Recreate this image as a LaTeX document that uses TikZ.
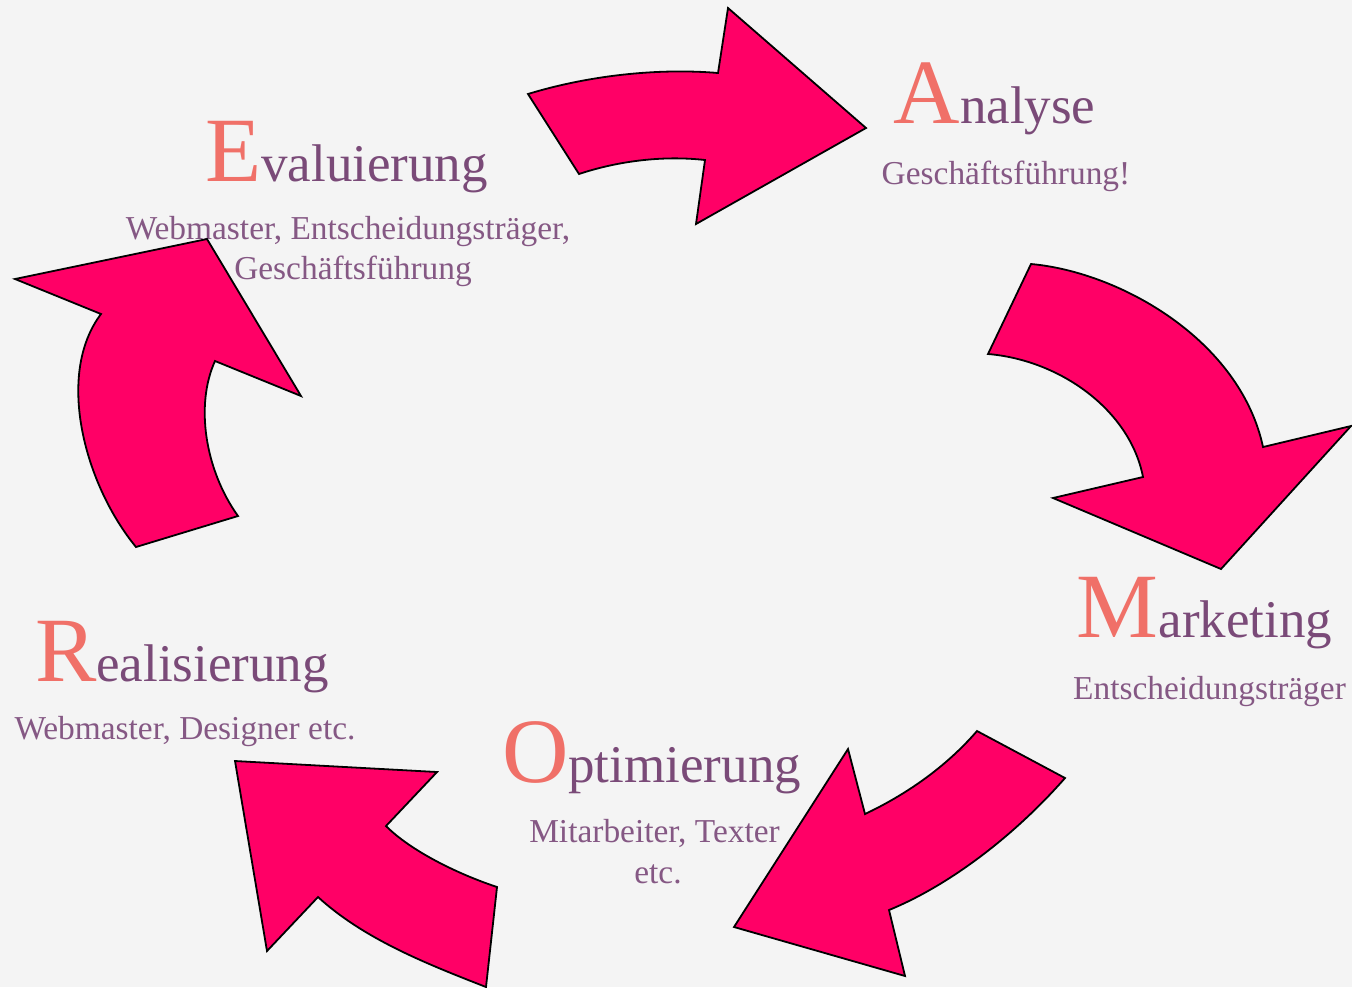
\documentclass[tikz,border=0pt]{standalone}
\usepackage{fontspec}
\setmainfont{Liberation Serif}
\definecolor{bg}{HTML}{F4F4F4}
\definecolor{ini}{HTML}{F07068}
\definecolor{ttl}{HTML}{7A4A78}
\definecolor{sub}{HTML}{855884}
\definecolor{arr}{HTML}{FF0066}
\newcommand{\Ini}[1]{{\fontsize{46pt}{46pt}\selectfont\color{ini}#1}}
\tikzset{
  ttlnode/.style={anchor=base, inner sep=0pt, text=ttl, font=\fontsize{26.5pt}{30pt}\selectfont},
  subnode/.style={anchor=base, inner sep=0pt, text=sub, font=\fontsize{16.7pt}{20pt}\selectfont},
  blockarrow/.style={fill=arr, draw=black, line width=0.9pt, line join=miter}
}
\begin{document}
\begin{tikzpicture}[x=0.5pt,y=-0.5pt]
\fill[bg] (0,0) rectangle (1352,987);
\useasboundingbox (0,0) rectangle (1352,987);

% Texts
\node[ttlnode] (ana) at (994.5,123) {\Ini{A}nalyse};
\node[subnode] (anasub) at (1006,184) {Geschäftsführung!};

\node[ttlnode] (eva) at (346.5,181) {\Ini{E}valuierung};
\node[subnode] (evasub1) at (348,239) {Webmaster, Entscheidungsträger,};
\node[subnode] (evasub2) at (353,279) {Geschäftsführung};

\node[ttlnode] (mar) at (1204.5,637) {\Ini{M}arketing};
\node[subnode] (marsub) at (1209.5,699) {Entscheidungsträger};

\node[ttlnode] (rea) at (182,681) {\Ini{R}ealisierung};
\node[subnode] (reasub) at (185,739) {Webmaster, Designer etc.};

\node[ttlnode] (opt) at (651.5,782) {\Ini{O}ptimierung};
\node[subnode] (optsub1) at (654.5,842) {Mitarbeiter, Texter};
\node[subnode] (optsub2) at (658,883) {etc.};

% Arrows
% top: towards Analyse
\draw[blockarrow] (528,94) .. controls (590,75) and (660,68) .. (718,73)
  -- (728,8) -- (866,128) -- (696,224) -- (705,160)
  .. controls (660,155) and (615,162) .. (579,174) -- cycle;
% right: towards Marketing
\draw[blockarrow] (1031,264) .. controls (1120,272) and (1240,340) .. (1263,447)
  -- (1351,426) -- (1221,569) -- (1053,498) -- (1143,477)
  .. controls (1130,410) and (1060,360) .. (988,354) -- cycle;
% bottom right: towards Optimierung
\draw[blockarrow] (977,731) -- (1065,778)
  .. controls (1015,835) and (950,885) .. (889,910)
  -- (905,976) -- (734,927) -- (848,749) -- (865,814)
  .. controls (905,795) and (945,768) .. (977,731) -- cycle;
% bottom left: towards Realisierung
\draw[blockarrow] (235,761) -- (437,772) -- (386,826)
  .. controls (410,850) and (455,873) .. (497,887)
  -- (486,987)
  .. controls (430,965) and (365,940) .. (318,897)
  -- (267,951) -- cycle;
% left: towards Evaluierung
\draw[blockarrow] (207,239) -- (301,396) -- (215,361)
  .. controls (195,405) and (205,470) .. (238,516)
  -- (136,547)
  .. controls (85,485) and (55,375) .. (101,314)
  -- (15,279) -- cycle;
\end{tikzpicture}
\end{document}
